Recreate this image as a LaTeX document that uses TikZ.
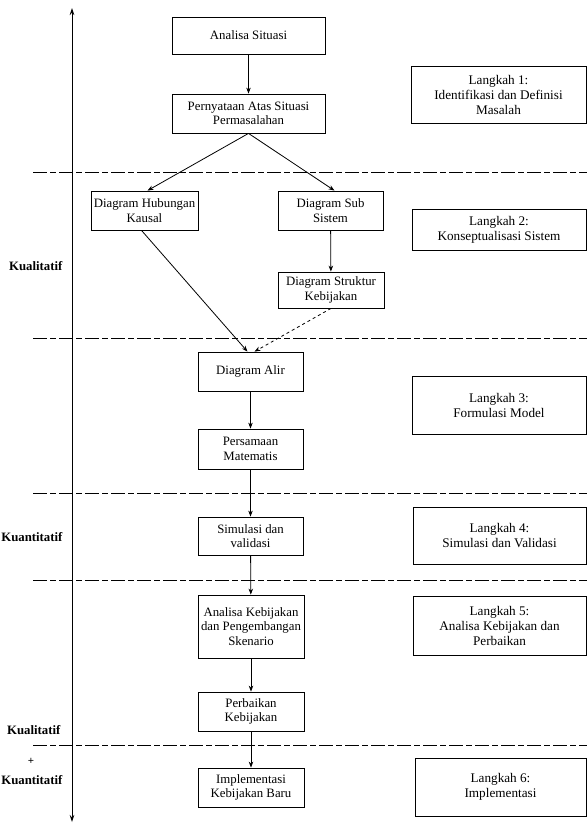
\documentclass[tikz,border=0pt]{standalone}
\usepackage{fontspec}
\setmainfont{Liberation Serif}
\usetikzlibrary{arrows.meta,calc}
\begin{document}
\begin{tikzpicture}[x=1pt,y=-1pt,
  lbox/.style={draw,line width=0.8pt,align=center,inner sep=1pt,font=\fontsize{12.8}{14.5}\selectfont},
  rbox/.style={draw,line width=0.8pt,align=center,inner sep=1pt,font=\fontsize{13.2}{15}\selectfont},
  flow/.style={line width=0.8pt,-{Stealth[length=6pt,width=4.5pt]}},
  sep/.style={line width=0.7pt,dash pattern=on 14pt off 3pt on 6pt off 3pt},
  side/.style={anchor=east,font=\fontsize{12.8}{14}\selectfont\bfseries}]
\useasboundingbox (0,0) rectangle (587,828);
% axis
\coordinate (axtop) at (72,8);
\coordinate (axbot) at (72,822);
\draw[line width=0.8pt,{Stealth[length=7pt,width=4.5pt]}-{Stealth[length=7pt,width=4.5pt]}] (axtop) -- (axbot);
% separators
\foreach \yy in {172,338,493,580,745} \draw[sep] (33,\yy) -- (587,\yy);
% left column
\node[lbox,minimum width=153pt,minimum height=37pt] (as) at (248.5,35.5) {Analisa Situasi};
\node[lbox,minimum width=153pt,minimum height=39pt] (pas) at (248.5,113.5) {Pernyataan Atas Situasi\\Permasalahan};
\node[lbox,minimum width=107pt,minimum height=39pt] (dhk) at (144.5,210.5) {Diagram Hubungan\\Kausal};
\node[lbox,minimum width=105pt,minimum height=39pt] (dss) at (330.5,210.5) {Diagram Sub\\Sistem};
\node[lbox,minimum width=106pt,minimum height=36pt] (dsk) at (331,290) {Diagram Struktur\\Kebijakan};
\node[lbox,minimum width=105pt,minimum height=39pt] (da) at (250.5,371.5) {Diagram Alir};
\node[lbox,minimum width=105pt,minimum height=40pt] (pm) at (250.5,449) {Persamaan\\Matematis};
\node[lbox,minimum width=105pt,minimum height=38pt] (sv) at (250.5,536) {Simulasi dan\\validasi};
\node[lbox,minimum width=106pt,minimum height=63pt] (ak) at (251,626.5) {Analisa Kebijakan\\dan Pengembangan\\Skenario};
\node[lbox,minimum width=106pt,minimum height=39pt] (pk) at (251,711.5) {Perbaikan\\Kebijakan};
\node[lbox,minimum width=106pt,minimum height=39pt] (ik) at (251,787.5) {Implementasi\\Kebijakan Baru};
% right column
\node[rbox,minimum width=175pt,minimum height=57pt] (l1) at (498.5,94.5) {Langkah 1:\\Identifikasi dan Definisi\\Masalah};
\node[rbox,minimum width=174pt,minimum height=41pt] (l2) at (499,229.5) {Langkah 2:\\Konseptualisasi Sistem};
\node[rbox,minimum width=174pt,minimum height=58pt] (l3) at (499,405) {Langkah 3:\\Formulasi Model};
\node[rbox,minimum width=173pt,minimum height=57pt] (l4) at (499.5,535.5) {Langkah 4:\\Simulasi dan Validasi};
\node[rbox,minimum width=173pt,minimum height=59pt] (l5) at (499.5,625.5) {Langkah 5:\\Analisa Kebijakan dan\\Perbaikan};
\node[rbox,minimum width=171pt,minimum height=58pt] (l6) at (500.5,787) {Langkah 6:\\Implementasi};
% side labels
\node[side] (q1) at (66,266) {Kualitatif};
\node[side] (n1) at (66,537) {Kuantitatif};
\node[side] (q2) at (64,730) {Kualitatif};
\node[font=\fontsize{11}{13}\selectfont\bfseries] (pl) at (31,761) {+};
\node[side] (n2) at (66,780) {Kuantitatif};
% connectors
\coordinate (daL) at ($(da.north)+(-3,0)$);
\coordinate (daR) at ($(da.north)+(4,0)$);
\draw[flow] (as) -- (pas);
\draw[flow] (pas.south) -- ($(dhk.north)+(3,0)$);
\draw[flow] (pas.south) -- ($(dss.north)+(4,0)$);
\draw[flow] ($(dhk.south)+(-3,0)$) -- (daL);
\draw[flow] (dss) -- (dsk);
\draw[flow,dashed] (dsk.south) -- (daR);
\draw[flow] (da) -- (pm);
\draw[flow] (pm) -- (sv);
\draw[flow] (sv) -- (ak);
\draw[flow] (ak) -- (pk);
\draw[flow] (pk) -- (ik);
\end{tikzpicture}
\end{document}
